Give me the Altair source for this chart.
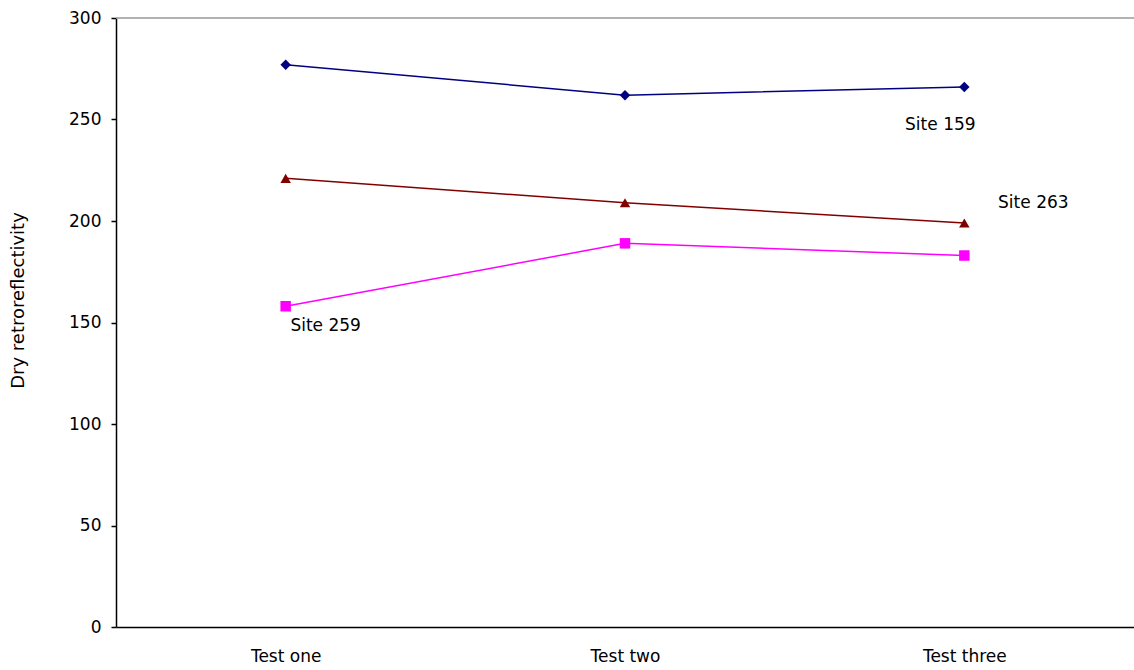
import altair as alt
import pandas as pd

tests = ["Test one", "Test two", "Test three"]
site159 = [277, 262, 266]
site263 = [221, 209, 199]
site259 = [158, 189, 183]
sites = ["Site 159", "Site 263", "Site 259"]
colors = ["#000080", "#800000", "#FF00FF"]
shapes = ["diamond", "triangle-up", "square"]

rows = []
for s, vals in zip(sites, [site159, site263, site259]):
    for t, v in zip(tests, vals):
        rows.append({"test": t, "value": v, "site": s})
df = pd.DataFrame(rows)

labels = pd.DataFrame({
    "test": ["Test three", "Test three", "Test one"],
    "value": [site159[2], site263[2], site259[0]],
    "site": sites,
    "dx": [-24, 69, 40],
    "dy": [38, -20, 20],
})

font = "DejaVu Sans"
x = alt.X("test:N", sort=tests, title=None,
          scale=alt.Scale(type="point", padding=0.5),
          axis=alt.Axis(labelAngle=0, ticks=False, labelPadding=21, labelFontSize=17,
                        labelFont=font, labelColor="#000", domainColor="#000", domainWidth=1.5,
                        grid=False))
y = alt.Y("value:Q", title="Dry retroreflectivity",
          scale=alt.Scale(domain=[0, 300]),
          axis=alt.Axis(values=[0, 50, 100, 150, 200, 250, 300], tickSize=5, tickColor="#000",
                        tickWidth=1.5, labelPadding=10, labelFontSize=17, labelFont=font,
                        labelColor="#000", domainColor="#000", domainWidth=1.5, grid=False,
                        titleFont=font, titleFontSize=18, titleFontWeight="normal",
                        titleColor="#000", titleAngle=-90, titleX=-98, titleY=282,
                        titleAlign="center", titleBaseline="middle"))
color = alt.Color("site:N", scale=alt.Scale(domain=sites, range=colors), legend=None)
shape = alt.Shape("site:N", scale=alt.Scale(domain=sites, range=shapes), legend=None)

top = alt.Chart(pd.DataFrame({"v": [300]})).mark_rule(color="#999999", strokeWidth=1.5).encode(
    y=alt.Y("v:Q", scale=alt.Scale(domain=[0, 300]))
)

lines = alt.Chart(df).mark_line(strokeWidth=1.5).encode(x=x, y=y, color=color, detail="site:N")
points = alt.Chart(df).mark_point(filled=True, size=110, opacity=1).encode(
    x=x, y=y, color=color, shape=shape)

texts = []
for i in range(len(labels)):
    r = labels.iloc[[i]]
    texts.append(alt.Chart(r).mark_text(font=font, fontSize=17, color="#000",
                                        dx=int(r["dx"].iloc[0]), dy=int(r["dy"].iloc[0])).encode(
        x=alt.X("test:N", sort=tests, scale=alt.Scale(type="point", padding=0.5)),
        y=alt.Y("value:Q", scale=alt.Scale(domain=[0, 300])),
        text="site:N"))

chart = alt.layer(top, lines, points, *texts).properties(
    width=1018, height=609,
    autosize=alt.AutoSizeParams(type="none"),
    padding={"left": 116, "top": 18, "right": 0, "bottom": 43},
    background="white",
).configure_view(stroke=None)

chart.save("out.html", embed_options={"renderer": "svg", "actions": False})
